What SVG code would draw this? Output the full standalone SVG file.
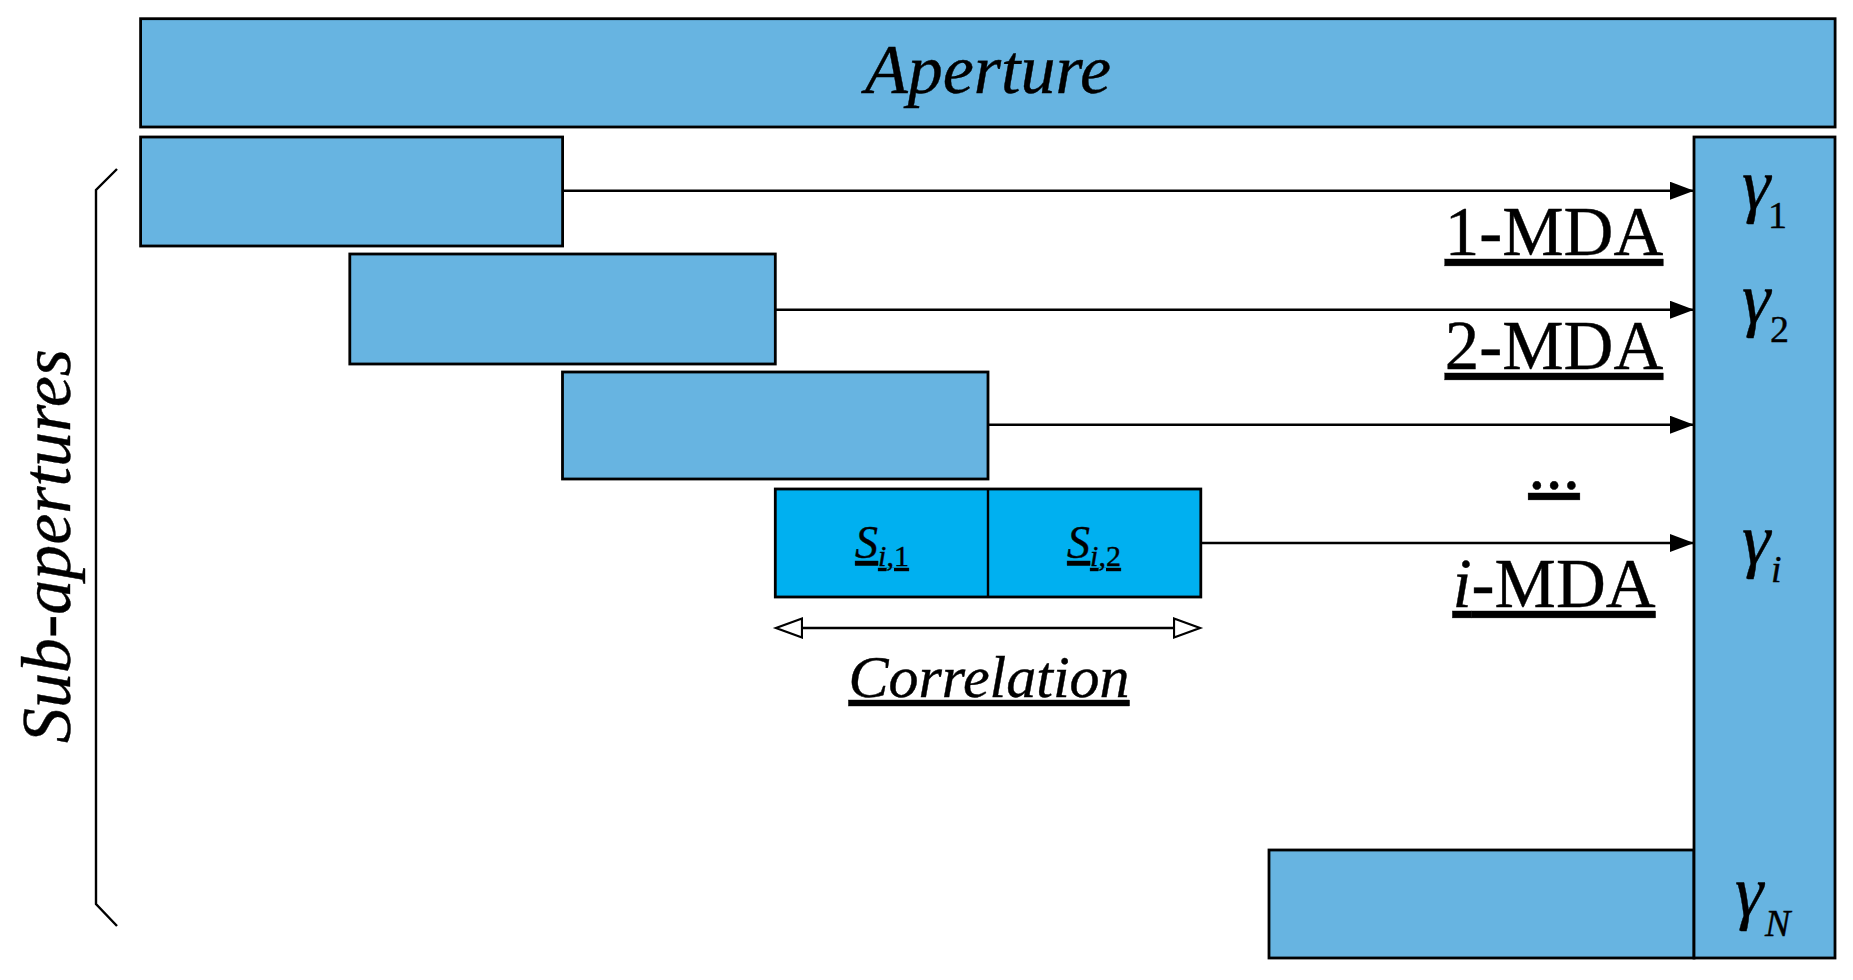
<svg xmlns="http://www.w3.org/2000/svg" width="1853" height="980" viewBox="0 0 1853 980">
<style>
.box{fill:#67B4E1;stroke:#000;stroke-width:2.8}
.boxi{fill:#00B0F0;stroke:#000;stroke-width:2.8}
text{font-family:'Liberation Serif','Times New Roman','DejaVu Serif',serif;fill:#000;stroke:#000;stroke-width:0.4}
.it{font-style:italic}
.ln{stroke:#000;stroke-width:2.4;fill:none}
</style>
<defs>
<marker id="ah" markerUnits="userSpaceOnUse" markerWidth="26" markerHeight="20" refX="24" refY="9" orient="auto">
<path d="M0,0 L24,9 L0,18 z" fill="#000"/>
</marker>
<marker id="oh" markerUnits="userSpaceOnUse" markerWidth="32" markerHeight="24" refX="1" refY="11" orient="auto-start-reverse">
<path d="M1,1.5 L27,11 L1,20.5 z" fill="#fff" stroke="#000" stroke-width="2.2"/>
</marker>
</defs>

<g id="aperture">
<rect class="box" x="140.6" y="18.7" width="1694.5" height="108.3"/>
<text class="it" x="988" y="93" font-size="70" text-anchor="middle">Aperture</text>
</g>

<g id="sub1"><rect class="box" x="140.6" y="137" width="422" height="109"/></g>
<g id="sub2"><rect class="box" x="349.8" y="254" width="425.5" height="110"/></g>
<g id="sub3"><rect class="box" x="562.5" y="372" width="425.5" height="107"/></g>
<g id="subi">
<rect class="boxi" x="775.3" y="489" width="425.5" height="108"/>
<line class="ln" x1="988" y1="489" x2="988" y2="597"/>
<text x="882" y="558" font-size="46" text-anchor="middle" text-decoration="underline"><tspan class="it">S</tspan><tspan class="it" font-size="30" dy="8">i</tspan><tspan font-size="30">,1</tspan></text>
<text x="1094" y="558" font-size="46" text-anchor="middle" text-decoration="underline"><tspan class="it">S</tspan><tspan class="it" font-size="30" dy="8">i</tspan><tspan font-size="30">,2</tspan></text>
</g>
<g id="subN"><rect class="box" x="1269" y="850" width="425" height="108"/></g>

<g id="gamma">
<rect class="box" x="1694" y="137" width="141" height="821"/>
<text class="it" x="1742" y="209" font-size="72">γ<tspan font-style="normal" font-size="38" x="1768" y="228">1</tspan></text>
<text class="it" x="1742" y="323" font-size="72">γ<tspan font-style="normal" font-size="38" x="1770" y="342">2</tspan></text>
<text class="it" x="1742" y="564" font-size="72">γ<tspan font-size="38" x="1771" y="582">i</tspan></text>
<text class="it" x="1735" y="916" font-size="72">γ<tspan font-size="38" x="1765" y="936">N</tspan></text>
</g>

<g id="bracket">
<path class="ln" d="M117,169 L96,190 L96,904 L117,926"/>
<text class="it" font-size="70" text-anchor="middle" transform="translate(70,546) rotate(-90)">Sub-apertures</text>
</g>

<g id="labels">
<text x="1554" y="255" font-size="69" text-anchor="middle" text-decoration="underline">1-MDA</text>
<text x="1554" y="369" font-size="69" text-anchor="middle" text-decoration="underline">2-MDA</text>
<text x="1554" y="489" font-size="69" text-anchor="middle" text-decoration="underline">...</text>
<text x="1554" y="607" font-size="69" text-anchor="middle" text-decoration="underline"><tspan class="it">i</tspan>-MDA</text>
<text class="it" x="989" y="697" font-size="60" text-anchor="middle" text-decoration="underline">Correlation</text>
</g>

<g id="connectors">
<line class="ln" x1="562.5" y1="190.7" x2="1694" y2="190.7" marker-end="url(#ah)"/>
<line class="ln" x1="775.3" y1="309.7" x2="1694" y2="309.7" marker-end="url(#ah)"/>
<line class="ln" x1="988" y1="424.7" x2="1694" y2="424.7" marker-end="url(#ah)"/>
<line class="ln" x1="1200.8" y1="543" x2="1694" y2="543" marker-end="url(#ah)"/>
<line class="ln" x1="802" y1="628" x2="1174" y2="628" marker-start="url(#oh)" marker-end="url(#oh)"/>
</g>
</svg>
